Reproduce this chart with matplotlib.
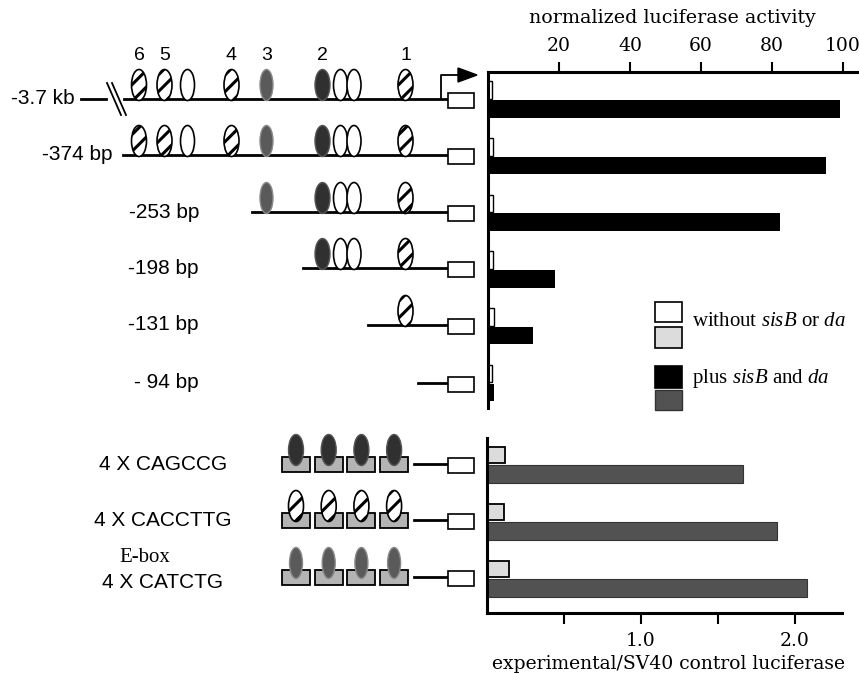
import matplotlib.pyplot as plt
from matplotlib.patches import Ellipse, Rectangle, Polygon

plt.rcParams['mathtext.fontset'] = 'custom'
plt.rcParams['mathtext.rm'] = 'Liberation Serif'
plt.rcParams['mathtext.it'] = 'Liberation Serif:italic'
plt.rcParams['hatch.linewidth'] = 2.2

# ---- data: deletion constructs (top panel) ----
construct_labels = ["-3.7 kb", "-374 bp", "-253 bp", "-198 bp", "-131 bp", "- 94 bp"]
without_vals = [1.1, 1.3, 1.3, 1.3, 1.6, 1.2]      # normalized luciferase, no sisB/da
plus_vals = [99.2, 95.2, 82.3, 18.9, 12.7, 1.7]     # normalized luciferase, plus sisB+da
top_ticks = [20, 40, 60, 80, 100]

# ---- data: multimerised E-box constructs (bottom panel) ----
multimer_labels = ["4 X CAGCCG", "4 X CACCTTG", "4 X CATCTG"]
multimer_without = [0.12, 0.11, 0.14]
multimer_plus = [1.66, 1.88, 2.08]
bottom_ticks = [0.5, 1.0, 1.5, 2.0]
bottom_ticklabels = ["", "1.0", "", "2.0"]

# ---- schematic layout (pixel units of the drawing) ----
site_x = [139, 164.5, 187.5, 231.5, 266.5, 322.5, 340.5, 354, 405.5]
site_kind = ["hatch", "hatch", "white", "hatch", "gray", "dark", "white", "white", "hatch"]
site_num = {"6": 139, "5": 164.5, "4": 231.5, "3": 266.5, "2": 322.5, "1": 405.5}
row_y = [99, 155, 212, 268, 325, 383]
line_start = [124, 123, 252, 303, 368, 418]
first_site = [0, 0, 4, 5, 8, 9]
label_right = [75, 112, 199, 199, 199, 199]
multi_y = [464, 520, 577]
multi_kind = ["dark", "hatch", "gray"]

fig = plt.figure(figsize=(8.59, 6.74), dpi=100)

# top bar chart
ax1 = fig.add_axes([488 / 859, 1 - 408 / 674, 369 / 859, 336 / 674])
rows = range(len(construct_labels))
ax1.barh([r - 0.165 for r in rows], without_vals, height=0.31, color="white",
         edgecolor="black", linewidth=1)
ax1.barh([r + 0.165 for r in rows], plus_vals, height=0.31, color="black")
ax1.set_xlim(0, 104)
ax1.set_ylim(5.44, -0.485)
ax1.xaxis.tick_top()
ax1.xaxis.set_label_position("top")
ax1.set_xticks(top_ticks)
ax1.set_yticks([])
ax1.tick_params(axis="x", direction="out", length=7, width=1.5, pad=5,
                labelsize=13.5, labelfontfamily="DejaVu Serif")
ax1.set_xlabel("normalized luciferase activity", fontsize=13.7,
               family="DejaVu Serif", labelpad=10)
for s in ["right", "bottom"]:
    ax1.spines[s].set_visible(False)
for s in ["left", "top"]:
    ax1.spines[s].set_linewidth(2.2)

# bottom bar chart
ax2 = fig.add_axes([487 / 859, 1 - 613 / 674, 355 / 859, 175 / 674])
mrows = range(len(multimer_labels))
ax2.barh([r - 0.165 for r in mrows], multimer_without, height=0.28, color="#dcdcdc",
         edgecolor="black", linewidth=1.3)
ax2.barh([r + 0.165 for r in mrows], multimer_plus, height=0.31, color="#525252",
         edgecolor="#333333", linewidth=0.8)
ax2.set_xlim(0, 2.305)
ax2.set_ylim(2.6, -0.47)
ax2.set_xticks(bottom_ticks)
ax2.set_xticklabels(bottom_ticklabels)
ax2.set_yticks([])
ax2.tick_params(axis="x", direction="out", length=8, width=1.5, pad=6,
                labelsize=13.5, labelfontfamily="DejaVu Serif")
for s in ["right", "top"]:
    ax2.spines[s].set_visible(False)
for s in ["left", "bottom"]:
    ax2.spines[s].set_linewidth(2.2)

# overlay canvas for the schematic and legend
cv = fig.add_axes([0, 0, 1, 1])
cv.set_xlim(0, 859)
cv.set_ylim(674, 0)
cv.axis("off")
cv.patch.set_visible(False)

# bottom x label sits tight against the figure edge, as in the original
cv.text(669, 669, "experimental/SV40 control luciferase", ha="center", va="baseline",
        fontsize=13.5, family="DejaVu Serif")


def oval(x, y, kind):
    if kind == "hatch":
        e = Ellipse((x, y), 15, 31, facecolor="white", edgecolor="black",
                    linewidth=1.2, hatch="//", zorder=4)
    elif kind == "white":
        e = Ellipse((x, y), 14, 31, facecolor="white", edgecolor="black",
                    linewidth=1.2, zorder=4)
    elif kind == "dark":
        e = Ellipse((x, y), 15, 31, facecolor="#303030", edgecolor="#555555",
                    linewidth=1, zorder=4)
    else:
        e = Ellipse((x, y), 13, 31, facecolor="#5a5a5a", edgecolor="#8a8a8a",
                    linewidth=1, zorder=4)
    cv.add_patch(e)


def luc_box(y):
    cv.add_patch(Rectangle((448, y - 6), 26, 15, facecolor="white",
                           edgecolor="black", linewidth=1.2, zorder=3))


for i, lab in enumerate(construct_labels):
    y = row_y[i]
    cv.plot([line_start[i], 448], [y, y], color="black", lw=2, zorder=2)
    for x, k in zip(site_x[first_site[i]:], site_kind[first_site[i]:]):
        oval(x, y - 14, k)
    luc_box(y)
    cv.text(label_right[i], y, lab, ha="right", va="center", fontsize=15,
            family="Liberation Sans")

# break in the -3.7 kb construct and transcription start arrow
cv.plot([81, 106], [99, 99], color="black", lw=2)
cv.plot([107, 121], [83, 115], color="black", lw=1.3)
cv.plot([112, 126], [83, 115], color="black", lw=1.3)
cv.plot([441, 441, 460], [99, 75, 75], color="black", lw=1.3)
cv.add_patch(Polygon([[458, 68], [477, 75], [458, 82]], closed=True,
                     facecolor="black", edgecolor="black"))

for num, x in site_num.items():
    cv.text(x, 55, num, ha="center", va="center", fontsize=14,
            family="Liberation Sans")

# multimer constructs
for i, lab in enumerate(multimer_labels):
    y = multi_y[i]
    for j in range(4):
        bx = 282 + j * 32.7
        cv.add_patch(Rectangle((bx, y - 7), 28, 15, facecolor="#b4b4b4",
                               edgecolor="black", linewidth=1.3, zorder=3))
        oval(bx + 14, y - 14, multi_kind[i])
    cv.plot([414, 448], [y, y], color="black", lw=2, zorder=2)
    luc_box(y)
    ty = y + 5 if i == 2 else y
    cv.text(163, ty, lab, ha="center", va="center", fontsize=15,
            family="Liberation Sans")
cv.text(145, 558, "E-box", ha="center", va="center", fontsize=15,
        family="Liberation Serif")

# legend
cv.add_patch(Rectangle((655, 302), 27, 20, facecolor="white", edgecolor="black", lw=1.2))
cv.add_patch(Rectangle((655, 327), 27, 21, facecolor="#dcdcdc", edgecolor="black", lw=1.2))
cv.add_patch(Rectangle((655, 366), 27, 22, facecolor="black", edgecolor="black", lw=1.2))
cv.add_patch(Rectangle((655, 390), 27, 20, facecolor="#525252", edgecolor="#333333", lw=1))
cv.text(692, 322, r"without $\mathit{sisB}$ or $\mathit{da}$", ha="left", va="center",
        fontsize=15, family="Liberation Serif")
cv.text(692, 378, r"plus $\mathit{sisB}$ and $\mathit{da}$", ha="left", va="center",
        fontsize=15, family="Liberation Serif")

fig.savefig("out.png", dpi=100)
